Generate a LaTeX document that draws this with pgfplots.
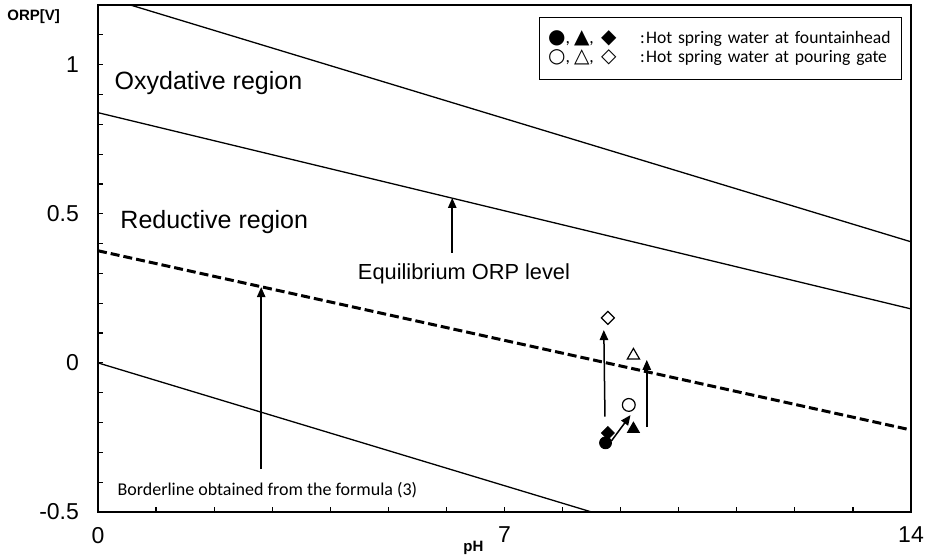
\documentclass[border=0pt]{standalone}
\usepackage{fontspec}
\setmainfont{Liberation Sans}
\newfontfamily\calibri{Carlito}
\newfontfamily\sym{DejaVu Sans}
\usepackage{pgfplots}
\pgfplotsset{compat=1.18}
\usetikzlibrary{arrows.meta}
\newcommand{\sy}[1]{{\sym\fontsize{10}{9.5}\selectfont #1}}

\begin{document}
\begin{tikzpicture}
\begin{axis}[name=ax, scale only axis, width=406.5pt, height=253.5pt,
  xmin=0, xmax=14, ymin=-0.5, ymax=1.2,
  axis line style={line width=0.8pt},
  tick align=inside, xtick pos=bottom, ytick pos=left,
  xtick={0,1,2,3,4,5,6,7,8,9,10,11,12,13,14},
  xticklabels={0,,,,,,,7,,,,,,,14},
  ytick={-0.5,0,0.5,1}, yticklabels={-0.5,0,0.5,1},
  minor ytick={-0.4,-0.3,-0.2,-0.1,0.1,0.2,0.3,0.4,0.6,0.7,0.8,0.9,1.1},
  major tick length=2.5pt, minor tick length=2.5pt,
  every tick/.style={black, line width=0.6pt},
  ticklabel style={font=\fontsize{11.5}{13}\selectfont},
  xticklabel style={yshift=-4pt},
  yticklabel style={xshift=-6pt},
]
% lines
\addplot[black, line width=0.65pt] coordinates {(0,1.233) (14,0.406)};
\addplot[black, line width=0.65pt] coordinates {(0,0.839) (14,0.181)};
\addplot[black, line width=1.5pt, dash pattern=on 4.5pt off 2pt] coordinates {(0,0.376) (14,-0.225)};
\addplot[black, line width=0.65pt] coordinates {(0,0) (8.5,-0.5)};
% arrows
\draw[line width=0.75pt, -{Triangle[length=5pt,width=4.2pt]}] (axis cs:6.1,0.37) -- (axis cs:6.1,0.553);
\draw[line width=0.75pt, -{Triangle[length=5pt,width=4.2pt]}] (axis cs:2.81,-0.356) -- (axis cs:2.81,0.254);
\draw[line width=0.75pt, -{Triangle[length=5pt,width=4.2pt]}] (axis cs:8.73,-0.18) -- (axis cs:8.71,0.11);
\draw[line width=0.75pt, -{Triangle[length=5pt,width=4.2pt]}] (axis cs:9.45,-0.215) -- (axis cs:9.45,0.01);
\draw[line width=0.75pt, -{Triangle[length=5pt,width=4.2pt]}] (axis cs:8.84,-0.262) -- (axis cs:9.17,-0.175);
% fountainhead (filled)
\addplot[only marks, mark=*, mark size=3pt, mark options={draw=black, fill=black}] coordinates {(8.74,-0.268)};
\addplot[only marks, mark=triangle*, mark size=3.5pt, mark options={draw=black, fill=black}] coordinates {(9.22,-0.222)};
\addplot[only marks, mark=square*, mark size=2.3pt, mark options={draw=black, fill=black, rotate=45}] coordinates {(8.78,-0.235)};
% pouring gate (open)
\addplot[only marks, mark=*, mark size=3.2pt, mark options={draw=black, fill=white, line width=0.6pt}] coordinates {(9.14,-0.141)};
\addplot[only marks, mark=triangle*, mark size=3.5pt, mark options={draw=black, fill=white, line width=0.6pt}] coordinates {(9.22,0.025)};
\addplot[only marks, mark=square*, mark size=2.3pt, mark options={draw=black, fill=white, line width=0.6pt, rotate=45}] coordinates {(8.78,0.151)};
% texts
\node[anchor=west, font=\fontsize{12.5}{14}\selectfont, inner sep=0pt] at (axis cs:0.28,0.94) {Oxydative region};
\node[anchor=west, font=\fontsize{12.5}{14}\selectfont, inner sep=0pt] at (axis cs:0.38,0.473) {Reductive region};
\node[anchor=west, font=\fontsize{10.9}{13}\selectfont, inner sep=0pt] at (axis cs:4.47,0.30) {Equilibrium ORP level};
\node[anchor=west, font=\calibri\fontsize{9}{11}\selectfont, inner sep=0pt] at (axis cs:0.33,-0.426) {Borderline obtained from the formula (3)};
\node[draw, line width=0.6pt, anchor=north east, align=left, inner xsep=4.5pt, inner ysep=0pt,
      text width=172pt, minimum height=31pt, fill=white,
      font=\calibri\fontsize{8.8}{9.5}\selectfont] at (axis cs:13.84,1.161)
  {\makebox[13pt][l]{\sy{●},}\makebox[13.5pt][l]{\sy{▲},}\makebox[19.5pt][l]{\sy{◆}}\makebox[3pt][l]{:}Hot spring water at fountainhead\\
   \makebox[13pt][l]{\sy{○},}\makebox[13.5pt][l]{\sy{△},}\makebox[19.5pt][l]{\sy{◇}}\makebox[3pt][l]{:}Hot spring water at pouring gate};
\end{axis}
\node[anchor=west, font=\bfseries\fontsize{7.5}{9}\selectfont, inner sep=0pt] at ([shift={(-45.5pt,-6pt)}]ax.north west) {ORP[V]};
\node[font=\bfseries\fontsize{7.5}{9}\selectfont, inner sep=0pt] at ([shift={(187.7pt,-18pt)}]ax.south west) {pH};
\pgfresetboundingbox
\path[use as bounding box] ([shift={(-49pt,-23pt)}]ax.south west) rectangle ([shift={(9pt,2.5pt)}]ax.north east);
\end{tikzpicture}
\end{document}
